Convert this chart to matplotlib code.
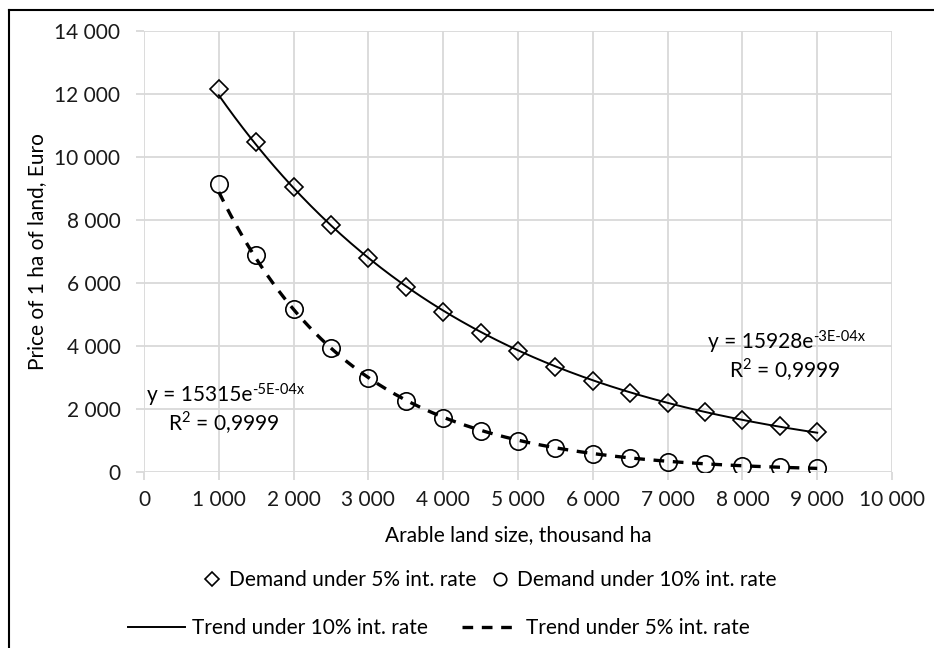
import numpy as np
import matplotlib.pyplot as plt
from matplotlib.lines import Line2D
from matplotlib.ticker import FuncFormatter, MultipleLocator

plt.rcParams['font.family'] = ['Lato', 'DejaVu Sans']

# arable land size, thousand ha
land = [1000, 1500, 2000, 2500, 3000, 3500, 4000, 4500, 5000,
        5500, 6000, 6500, 7000, 7500, 8000, 8500, 9000]
# price of 1 ha, Euro
demand_5 = [12150, 10490, 9060, 7840, 6790, 5860, 5070, 4400, 3830,
            3330, 2900, 2510, 2180, 1910, 1660, 1450, 1270]
demand_10 = [9150, 6890, 5190, 3930, 2970, 2250, 1720, 1310, 1000,
             760, 580, 450, 330, 260, 200, 150, 120]

# trendline equations as printed: (base, exponent, R²)
eq_5 = ('y = 15928e', '-3E-04x', 'R$^{\\mathregular{2}}$ = 0,9999')
eq_10 = ('y = 15315e', '-5E-04x', 'R$^{\\mathregular{2}}$ = 0,9999')

FS = 15
W, H = 934, 648

x = np.array(land, dtype=float)
xs = np.linspace(x.min(), x.max(), 300)

def exp_trend(y):
    k, b = np.polyfit(x, np.log(y), 1)
    return np.exp(b) * np.exp(k * xs)

fig = plt.figure(figsize=(W / 100, H / 100), dpi=100)
ax = fig.add_axes([144 / W, 1 - 472 / H, (892 - 144) / W, (472 - 31) / H])

solid = dict(color='black', lw=1.4)
dashed = dict(color='black', lw=2.4, dashes=(3.2, 2.6))
diamond = dict(ls='none', marker='D', mfc='none', mec='black', mew=1.2)
circle = dict(ls='none', marker='o', mfc='none', mec='black', mew=1.2)

ax.plot(xs, exp_trend(demand_5), zorder=3, **solid)
ax.plot(xs, exp_trend(demand_10), zorder=3, **dashed)
ax.plot(land, demand_5, ms=9.5, zorder=4, **diamond)
ax.plot(land, demand_10, ms=12.5, zorder=4, **circle)

ax.set_xlim(0, 10000)
ax.set_ylim(0, 14000)
ax.xaxis.set_major_locator(MultipleLocator(1000))
ax.yaxis.set_major_locator(MultipleLocator(2000))
fmt = FuncFormatter(lambda v, p: f'{v:,.0f}'.replace(',', ' '))
ax.xaxis.set_major_formatter(fmt)
ax.yaxis.set_major_formatter(fmt)
ax.grid(True, color='#d9d9d9', lw=1.3)
ax.set_axisbelow(True)
for s in ax.spines.values():
    s.set_visible(False)
ax.tick_params(axis='both', length=6, color='#d9d9d9', width=1.3, labelsize=FS,
               labelcolor='#1a1a1a')
ax.tick_params(axis='x', pad=7)
ax.tick_params(axis='y', pad=11)

ax.set_xlabel('Arable land size, thousand ha', fontsize=FS, labelpad=11)
ax.set_ylabel('Price of 1 ha of land, Euro', fontsize=FS, labelpad=5)

def equation(eq, x0, y0, xr, yr):
    t = ax.text(x0, y0, eq[0], fontsize=FS, ha='left', va='center')
    ax.annotate(eq[1], xy=(1, 0.42), xycoords=t, fontsize=10.5, ha='left', va='bottom')
    ax.text(xr, yr, eq[2], fontsize=FS, ha='center', va='center')

equation(eq_10, 40, 2440, 1070, 1560)
equation(eq_5, 7540, 4130, 8570, 3240)

# legend entries placed one by one: (handle, label, left px, centre y px, handle length)
entries = [
    (Line2D([], [], ms=7, **diamond), 'Demand under 5% int. rate', 202, 580, 1.0),
    (Line2D([], [], ms=9, **circle), 'Demand under 10% int. rate', 490, 580, 1.0),
    (Line2D([], [], **solid), 'Trend under 10% int. rate', 128, 628, 2.75),
    (Line2D([], [], **dashed), 'Trend under 5% int. rate', 462, 628, 2.75),
]
for h, lab, px, py, hl in entries:
    fig.legend([h], [lab], loc='center left', bbox_to_anchor=(px / W, 1 - py / H),
               frameon=False, fontsize=FS, handlelength=hl, handletextpad=0.3,
               borderpad=0, borderaxespad=0)

# frame lines along the top and left edge
fig.add_artist(Line2D([9 / W, 1], [1 - 10 / H, 1 - 10 / H], color='black', lw=1.5))
fig.add_artist(Line2D([9 / W, 9 / W], [0, 1 - 10 / H], color='black', lw=1.5))

fig.savefig('out.png', dpi=100)
